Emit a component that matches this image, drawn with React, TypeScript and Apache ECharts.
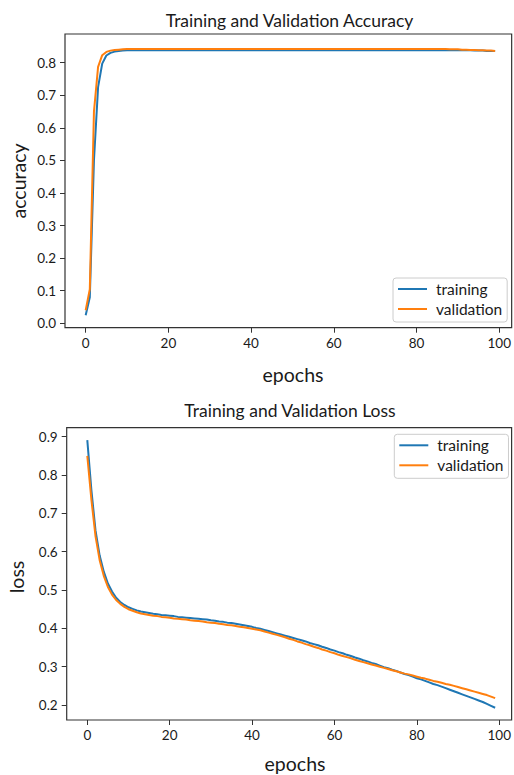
import React, { useEffect, useRef } from "react";
import * as echarts from "echarts";

const EPOCHS = Array.from({ length: 100 }, (_, i) => i);

const TRAIN_ACC = [
  0.025, 0.080, 0.500, 0.725, 0.797, 0.822, 0.830, 0.834, 0.836, 0.837,
  0.838, 0.838, 0.838, 0.838, 0.838, 0.838, 0.838, 0.838, 0.838, 0.838,
  0.838, 0.838, 0.838, 0.838, 0.838, 0.838, 0.838, 0.838, 0.838, 0.838,
  0.838, 0.838, 0.838, 0.838, 0.838, 0.838, 0.838, 0.838, 0.838, 0.838,
  0.838, 0.838, 0.838, 0.838, 0.838, 0.838, 0.838, 0.838, 0.838, 0.838,
  0.838, 0.838, 0.838, 0.838, 0.838, 0.838, 0.838, 0.838, 0.838, 0.838,
  0.838, 0.838, 0.838, 0.838, 0.838, 0.838, 0.838, 0.838, 0.838, 0.838,
  0.838, 0.838, 0.838, 0.838, 0.838, 0.838, 0.838, 0.838, 0.838, 0.838,
  0.838, 0.838, 0.838, 0.838, 0.838, 0.838, 0.838, 0.838, 0.838, 0.838,
  0.838, 0.838, 0.838, 0.838, 0.837, 0.837, 0.837, 0.836, 0.836, 0.836,
];

const VAL_ACC = [
  0.040, 0.105, 0.650, 0.787, 0.823, 0.833, 0.837, 0.839, 0.840, 0.841,
  0.842, 0.842, 0.842, 0.842, 0.842, 0.842, 0.842, 0.842, 0.842, 0.842,
  0.842, 0.842, 0.842, 0.842, 0.842, 0.842, 0.842, 0.842, 0.842, 0.842,
  0.842, 0.842, 0.842, 0.842, 0.842, 0.842, 0.842, 0.842, 0.842, 0.842,
  0.842, 0.842, 0.842, 0.842, 0.842, 0.842, 0.842, 0.842, 0.842, 0.842,
  0.842, 0.842, 0.842, 0.842, 0.842, 0.842, 0.842, 0.842, 0.842, 0.842,
  0.842, 0.842, 0.842, 0.842, 0.842, 0.842, 0.842, 0.842, 0.842, 0.842,
  0.842, 0.842, 0.842, 0.842, 0.842, 0.842, 0.842, 0.842, 0.842, 0.842,
  0.842, 0.842, 0.842, 0.842, 0.842, 0.842, 0.842, 0.842, 0.841, 0.841,
  0.841, 0.840, 0.840, 0.839, 0.839, 0.838, 0.838, 0.837, 0.837, 0.836,
];

const TRAIN_LOSS = [
  0.891, 0.760, 0.655, 0.590, 0.548, 0.517, 0.496, 0.480, 0.469, 0.461,
  0.455, 0.451, 0.447, 0.444, 0.442, 0.440, 0.438, 0.437, 0.435, 0.434,
  0.433, 0.432, 0.430, 0.429, 0.428, 0.427, 0.426, 0.425, 0.424, 0.423,
  0.421, 0.420, 0.418, 0.417, 0.415, 0.414, 0.412, 0.410, 0.408, 0.406,
  0.404, 0.401, 0.399, 0.396, 0.393, 0.390, 0.387, 0.384, 0.381, 0.378,
  0.375, 0.372, 0.369, 0.366, 0.362, 0.359, 0.356, 0.352, 0.349, 0.345,
  0.342, 0.338, 0.335, 0.331, 0.328, 0.324, 0.321, 0.317, 0.314, 0.310,
  0.307, 0.303, 0.299, 0.296, 0.292, 0.289, 0.285, 0.281, 0.278, 0.274,
  0.270, 0.267, 0.263, 0.259, 0.255, 0.252, 0.248, 0.244, 0.240, 0.236,
  0.232, 0.228, 0.224, 0.220, 0.216, 0.212, 0.208, 0.203, 0.198, 0.193,
];

const VAL_LOSS = [
  0.850, 0.735, 0.640, 0.578, 0.537, 0.508, 0.488, 0.474, 0.464, 0.456,
  0.450, 0.446, 0.442, 0.439, 0.437, 0.435, 0.433, 0.432, 0.430, 0.429,
  0.428, 0.426, 0.425, 0.424, 0.423, 0.421, 0.420, 0.419, 0.418, 0.416,
  0.415, 0.414, 0.412, 0.411, 0.409, 0.408, 0.406, 0.404, 0.403, 0.401,
  0.399, 0.397, 0.395, 0.392, 0.389, 0.386, 0.383, 0.380, 0.377, 0.373,
  0.370, 0.366, 0.363, 0.359, 0.356, 0.352, 0.349, 0.345, 0.342, 0.338,
  0.335, 0.331, 0.328, 0.325, 0.322, 0.318, 0.315, 0.312, 0.309, 0.306,
  0.303, 0.300, 0.297, 0.294, 0.291, 0.288, 0.285, 0.282, 0.280, 0.277,
  0.274, 0.271, 0.269, 0.266, 0.263, 0.261, 0.258, 0.255, 0.253, 0.250,
  0.247, 0.244, 0.241, 0.238, 0.235, 0.232, 0.229, 0.226, 0.222, 0.218,
];

const X_TICKS = [0, 20, 40, 60, 80, 100];
const ACC_TICKS = [0, 0.1, 0.2, 0.3, 0.4, 0.5, 0.6, 0.7, 0.8];
const LOSS_TICKS = [0.2, 0.3, 0.4, 0.5, 0.6, 0.7, 0.8, 0.9];
const SERIES_NAMES = ["training", "validation"];
const TITLES = ["Training and Validation Accuracy", "Training and Validation Loss"];
const Y_NAMES = ["accuracy", "loss"];
const X_NAME = "epochs";

const BLUE = "#1f77b4";
const ORANGE = "#ff7f0e";
const FONT = "Lato";
const TEXT = "#1a1a1a";
const SPINE = "#333333";

function xAxisOf(gridIndex: number) {
  return {
    gridIndex,
    type: "value",
    min: -5,
    max: 103,
    axisLine: { show: false, onZero: false },
    splitLine: { show: false },
    axisTick: { show: true, customValues: X_TICKS, length: 5, lineStyle: { color: SPINE, width: 1 } },
    axisLabel: {
      customValues: X_TICKS,
      margin: 8,
      fontSize: 13.5,
      fontFamily: FONT,
      color: TEXT,
      formatter: (v: number) => String(v),
    },
  };
}

function yAxisOf(gridIndex: number, min: number, max: number, ticks: number[]) {
  return {
    gridIndex,
    type: "value",
    min,
    max,
    axisLine: { show: false, onZero: false },
    splitLine: { show: false },
    axisTick: { show: true, customValues: ticks, length: 5, lineStyle: { color: SPINE, width: 1 } },
    axisLabel: {
      customValues: ticks,
      margin: 9,
      fontSize: 13.5,
      fontFamily: FONT,
      color: TEXT,
      formatter: (v: number) => v.toFixed(1),
    },
  };
}

function legendOf(left: number, top: number) {
  return {
    data: SERIES_NAMES,
    orient: "vertical",
    left,
    top,
    icon: "rect",
    itemWidth: 29,
    itemHeight: 2,
    itemGap: 4,
    padding: [3, 5, 5, 5],
    backgroundColor: "rgba(255,255,255,0.8)",
    borderColor: "#cccccc",
    borderWidth: 1,
    borderRadius: 3,
    selectedMode: false,
    textStyle: { fontFamily: FONT, fontSize: 15.5, color: TEXT, padding: [0, 0, 0, 4] },
  };
}

function lineSeries(name: string, color: string, values: number[], idx: number) {
  return {
    name,
    type: "line",
    xAxisIndex: idx,
    yAxisIndex: idx,
    data: EPOCHS.map((e, i) => [e, values[i]]),
    showSymbol: false,
    symbol: "none",
    color,
    lineStyle: { color, width: 2 },
  };
}

function textEl(text: string, x: number, y: number, size: number, rotation = 0) {
  return {
    type: "text",
    x,
    y,
    rotation,
    style: {
      text,
      font: `${size}px ${FONT}`,
      fill: TEXT,
      align: "center",
      verticalAlign: "middle",
      textAlign: "center",
      textVerticalAlign: "middle",
    },
  };
}

export default function App() {
  const ref = useRef<HTMLDivElement>(null);

  useEffect(() => {
    if (!ref.current) return;
    const chart = echarts.init(ref.current, null, { renderer: "svg" });
    chart.setOption({
      animation: false,
      backgroundColor: "#ffffff",
      grid: [
        { left: 65, right: 1.5, top: 34, height: 293.7, show: true, borderColor: SPINE, borderWidth: 1.2 },
        { left: 66.7, right: 0, top: 427.7, height: 292.3, show: true, borderColor: SPINE, borderWidth: 1.2 },
      ],
      xAxis: [xAxisOf(0), xAxisOf(1)],
      yAxis: [yAxisOf(0, -0.0135, 0.888, ACC_TICKS), yAxisOf(1, 0.161, 0.9235, LOSS_TICKS)],
      legend: [legendOf(393, 278), legendOf(394.3, 434.3)],
      series: [
        lineSeries(SERIES_NAMES[0], BLUE, TRAIN_ACC, 0),
        lineSeries(SERIES_NAMES[1], ORANGE, VAL_ACC, 0),
        lineSeries(SERIES_NAMES[0], BLUE, TRAIN_LOSS, 1),
        lineSeries(SERIES_NAMES[1], ORANGE, VAL_LOSS, 1),
      ],
      graphic: [
        textEl(TITLES[0], 289.5, 20.7, 17.5),
        textEl(TITLES[1], 290, 410, 17.5),
        textEl(X_NAME, 293, 374, 19.5),
        textEl(X_NAME, 295, 763, 19.5),
        textEl(Y_NAMES[0], 18, 181, 19.5, Math.PI / 2),
        textEl(Y_NAMES[1], 16, 577, 19.5, Math.PI / 2),
      ],
    });
    return () => chart.dispose();
  }, []);

  return (
    <div
      ref={ref}
      style={{ position: "absolute", left: 0, top: 0, width: 514, height: 775 }}
    />
  );
}
